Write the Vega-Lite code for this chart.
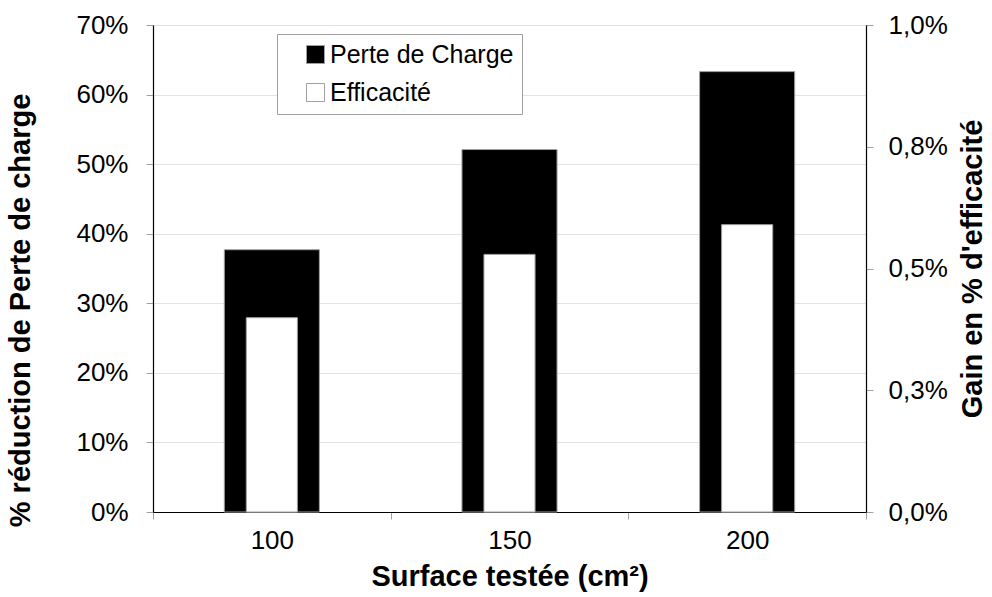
{
  "$schema": "https://vega.github.io/schema/vega-lite/v6.json",
  "width": 713,
  "height": 487,
  "autosize": {"type": "none"},
  "padding": {"left": 153, "top": 25, "right": 126, "bottom": 85},
  "background": "white",
  "config": {
    "font": "Liberation Sans",
    "view": {"stroke": "#c8c8c8", "strokeWidth": 1},
    "axis": {
      "labelFont": "Liberation Sans",
      "labelFontSize": 26,
      "labelColor": "#000000",
      "titleFont": "Liberation Sans",
      "titleFontSize": 29,
      "titleFontWeight": "bold",
      "titleColor": "#000000",
      "domainColor": "#000000",
      "domainWidth": 1.2,
      "tickColor": "#a0a0a0",
      "tickSize": 7,
      "gridColor": "#e3e3e3"
    }
  },
  "data": {
    "values": [
      {"surface": "100", "perte": 0.377, "eff": 0.00399},
      {"surface": "150", "perte": 0.521, "eff": 0.00529},
      {"surface": "200", "perte": 0.633, "eff": 0.0059}
    ]
  },
  "encoding": {
    "x": {
      "field": "surface",
      "type": "nominal",
      "scale": {"paddingInner": 0, "paddingOuter": 0},
      "axis": {
        "labelAngle": 0,
        "tickBand": "extent",
        "title": "Surface testée (cm²)",
        "labelPadding": 8,
        "titlePadding": 9
      }
    }
  },
  "layer": [
    {
      "mark": {"type": "bar", "stroke": "#a0a0a0", "strokeWidth": 1, "width": {"band": 0.4}},
      "encoding": {
        "y": {
          "field": "perte",
          "type": "quantitative",
          "scale": {"domain": [0, 0.7], "nice": false},
          "axis": {
            "values": [0, 0.1, 0.2, 0.3, 0.4, 0.5, 0.6, 0.7],
            "format": ".0%",
            "grid": true,
            "title": "% réduction de Perte de charge",
            "labelPadding": 18,
            "titlePadding": 40,
            "titleY": 285
          }
        },
        "color": {
          "datum": "Perte de Charge",
          "scale": {"domain": ["Perte de Charge", "Efficacité"], "range": ["#000000", "#ffffff"]},
          "legend": {
            "orient": "none",
            "legendX": 124,
            "legendY": 9,
            "title": null,
            "padding": 8,
            "strokeColor": "#a0a0a0",
            "fillColor": "#ffffff",
            "symbolType": "square",
            "symbolSize": 324,
            "symbolOffset": 18,
            "symbolStrokeColor": "#333333",
            "symbolStrokeWidth": 1,
            "labelFont": "Liberation Sans",
            "labelFontSize": 25,
            "labelColor": "#000000",
            "labelOffset": 2,
            "labelLimit": 400,
            "rowPadding": 12,
            "labelExpr": "datum.label + '\u00a0\u00a0\u00a0\u00a0\u00a0'"
          }
        }
      }
    },
    {
      "mark": {"type": "bar", "stroke": "#a0a0a0", "strokeWidth": 1, "width": {"band": 0.215}},
      "encoding": {
        "y": {
          "field": "eff",
          "type": "quantitative",
          "scale": {"domain": [0, 0.01], "nice": false},
          "axis": {
            "orient": "right",
            "values": [0, 0.0025, 0.005, 0.0075, 0.01],
            "labelExpr": "replace(format(datum.value, '.1%'), '.', ',')",
            "grid": false,
            "title": "Gain en % d'efficacité",
            "titleAngle": 270,
            "labelPadding": 15,
            "titlePadding": 40
          }
        },
        "color": {"datum": "Efficacité"}
      }
    }
  ],
  "resolve": {"scale": {"y": "independent"}}
}
